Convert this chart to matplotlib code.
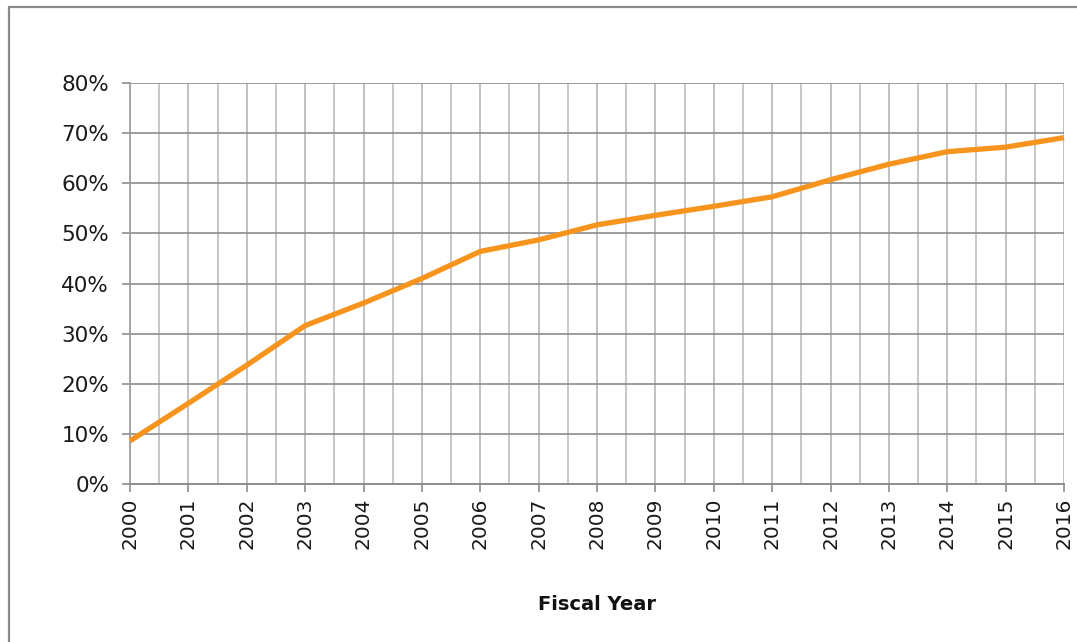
import matplotlib
matplotlib.use("Agg")
import matplotlib.pyplot as plt
from matplotlib.lines import Line2D
from matplotlib.ticker import FuncFormatter

# Share of the target reached, by fiscal year
years = [2000, 2001, 2002, 2003, 2004, 2005, 2006, 2007, 2008,
         2009, 2010, 2011, 2012, 2013, 2014, 2015, 2016]
share = [0.086, 0.161, 0.237, 0.316, 0.361, 0.410, 0.464, 0.487, 0.517,
         0.536, 0.554, 0.573, 0.607, 0.638, 0.663, 0.672, 0.691]
y_ticks = [0.0, 0.1, 0.2, 0.3, 0.4, 0.5, 0.6, 0.7, 0.8]
x_label = "Fiscal Year"

W, H = 1077, 642
fig = plt.figure(figsize=(W / 100, H / 100), dpi=100)
fig.patch.set_facecolor("white")

# Outer chart frame (top and left edges visible)
frame_color = "#8a8a8a"
fig.add_artist(Line2D([8.5 / W, 8.5 / W], [0, 1 - 6 / H], transform=fig.transFigure,
                      color=frame_color, lw=1.6, solid_capstyle="butt"))
fig.add_artist(Line2D([8 / W, 1], [1 - 6.5 / H, 1 - 6.5 / H], transform=fig.transFigure,
                      color=frame_color, lw=1.6, solid_capstyle="butt"))

ax = fig.add_axes([130 / W, (H - 484) / H, (1064 - 130) / W, (484 - 83) / H])
ax.plot(years, share, color="#F7941D", lw=3.8, solid_capstyle="butt",
        solid_joinstyle="round", zorder=5, clip_on=False)

ax.set_xlim(years[0], years[-1])
ax.set_ylim(y_ticks[0], y_ticks[-1])
ax.set_xticks(years)
ax.set_xticks([y + 0.5 for y in years[:-1]], minor=True)
ax.set_yticks(y_ticks)
ax.yaxis.set_major_formatter(FuncFormatter(lambda v, _: f"{v * 100:.0f}%"))

# Grid: darker horizontals, lighter verticals at each year and half-year
ax.grid(axis="y", which="major", color="#8c8c8c", lw=1.2)
ax.grid(axis="x", which="major", color="#b0b0b0", lw=1.1)
ax.grid(axis="x", which="minor", color="#b8b8b8", lw=1.1)
ax.set_axisbelow(True)

for side in ("top", "right"):
    ax.spines[side].set_visible(False)
ax.spines["left"].set_color("#9a9a9a")
ax.spines["left"].set_linewidth(1.2)
ax.spines["bottom"].set_color("#8c8c8c")
ax.spines["bottom"].set_linewidth(1.4)

ax.tick_params(axis="x", which="major", direction="out", length=6, width=1.2,
               color="#8c8c8c", labelsize=14.5, labelcolor="#1a1a1a",
               labelrotation=90, pad=4)
ax.tick_params(axis="x", which="minor", length=0)
ax.tick_params(axis="y", direction="out", length=6, width=1.2, color="#8c8c8c",
               labelsize=15.5, labelcolor="#1a1a1a", pad=9)

fig.text((130 + 1064) / 2 / W, 1 - 604 / H, x_label, ha="center", va="center",
         fontsize=14, fontweight="bold", color="#111111")

fig.savefig("out.png", dpi=100, facecolor="white")
